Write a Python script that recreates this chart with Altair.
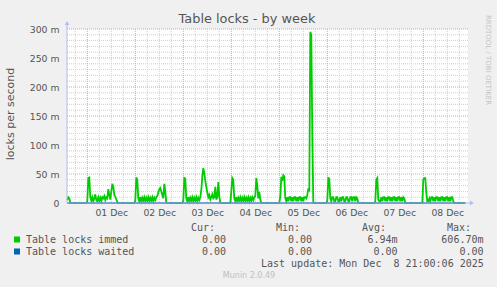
import altair as alt
import pandas as pd

# ---------------- data (milli-locks per second, 30-min samples) ----------------
nov30_from_1400 = [5, 10, 8, 0] + [0] * 16
dec01 = [3, 43, 44, 10, 4, 10, 3, 8, 15, 5, 3, 10, 4, 9, 3, 10, 8, 12, 5, 10,
         8, 24, 14, 6, 20, 33, 28, 14, 11, 6, 2, 0] + [0] * 16
dec02 = [4, 44, 40, 8, 3, 10, 3, 9, 4, 10, 3, 9, 4, 10, 3, 9, 4, 10, 3, 9,
         5, 10, 12, 18, 24, 26, 20, 14, 8, 33, 20, 0] + [0] * 16
dec03 = [4, 43, 42, 8, 3, 10, 3, 9, 4, 10, 3, 9, 4, 10, 3, 9, 5, 10, 22, 45,
         60, 52, 38, 28, 18, 10, 14, 6, 10, 15, 8, 10, 28, 6, 10, 36, 12, 0] + [0] * 10
dec04 = [20, 43, 40, 8, 3, 10, 3, 9, 4, 10, 3, 9, 4, 10, 3, 9, 4, 10, 3, 9,
         4, 10, 5, 10, 12, 43, 30, 8, 19, 6, 0] + [0] * 17
dec05 = [0, 12, 45, 38, 48, 46, 8, 3, 10, 3, 10, 10, 3, 10, 3, 10, 10, 3, 10, 3,
         10, 10, 3, 10, 3, 10, 10, 8, 14, 25, 20, 295, 290, 120, 0] + [0] * 13
dec06 = [4, 43, 42, 8, 3, 10, 10, 3, 3, 10, 10, 3, 3, 10, 3, 10, 10, 3, 3, 10,
         10, 3, 3, 10, 10, 3, 10, 10, 3, 10, 8, 0] + [0] * 16
dec07 = [3, 40, 43, 6, 3, 3, 10, 3, 10, 10, 3, 10, 3, 10, 10, 3, 10, 3, 10, 10,
         3, 10, 3, 10, 10, 3, 10, 3, 10, 8, 0] + [0] * 17
dec08_to_2100 = [40, 43, 43, 18, 3, 3, 8, 3, 10, 10, 3, 10, 3, 10, 10, 3, 10, 3, 10, 10,
                 3, 10, 3, 10, 10, 3, 10, 3, 10, 10, 3, 0] + [0] * 11

segment_starts = ["2025-11-30T14:00:00Z", "2025-12-01T00:00:00Z", "2025-12-02T00:00:00Z",
                  "2025-12-03T00:00:00Z", "2025-12-04T00:00:00Z", "2025-12-05T00:00:00Z",
                  "2025-12-06T00:00:00Z", "2025-12-07T00:00:00Z", "2025-12-08T00:00:00Z"]
segments = [nov30_from_1400, dec01, dec02, dec03, dec04, dec05, dec06, dec07, dec08_to_2100]

waited_times = ["2025-11-30T14:00:00Z", "2025-12-08T21:00:00Z"]
waited_values = [0, 0]

day_midnights = ["2025-12-01T00:00:00Z", "2025-12-02T00:00:00Z", "2025-12-03T00:00:00Z",
                 "2025-12-04T00:00:00Z", "2025-12-05T00:00:00Z", "2025-12-06T00:00:00Z",
                 "2025-12-07T00:00:00Z", "2025-12-08T00:00:00Z"]
y_major = [0, 50, 100, 150, 200, 250, 300]
y_minor = [10, 20, 30, 40, 60, 70, 80, 90, 110, 120, 130, 140, 160, 170, 180, 190,
           210, 220, 230, 240, 260, 270, 280, 290]

series_names = ["Table locks immed", "Table locks waited"]
stat_headers = ["Cur:", "Min:", "Avg:", "Max:"]
stats_immed = ["0.00\u00a0", "0.00\u00a0", "6.94m", "606.70m"]
stats_waited = ["0.00\u00a0", "0.00\u00a0", "0.00\u00a0", "0.00\u00a0"]
last_update = "Last update: Mon Dec\u00a0\u00a08 21:00:06 2025"

# ---------------- build tables ----------------
rows = []
for start, vals in zip(segment_starts, segments):
    ts = pd.date_range(start, periods=len(vals), freq="30min")
    for t, v in zip(ts, vals):
        rows.append({"time": t.strftime("%Y-%m-%dT%H:%M:%SZ"), "value": v})
immed_df = pd.DataFrame(rows)
waited_df = pd.DataFrame({"time": waited_times, "value": waited_values})

minor_x = ["2025-11-30T18:00:00Z"]
for m in day_midnights:
    base = pd.Timestamp(m)
    for h in [6, 12, 18]:
        minor_x.append((base + pd.Timedelta(hours=h)).strftime("%Y-%m-%dT%H:%M:%SZ"))

GREEN = "#00CC00"
BLUE = "#0066B3"
TXT = "#555555"
AXC = "#B4BCEA"
SANS = "DejaVu Sans"
MONO = "DejaVu Sans Mono"
W, H = 401, 174

xscale = alt.Scale(type="utc", domain=[
    alt.DateTime(year=2025, month=11, date=30, hours=13, minutes=51, utc=True),
    alt.DateTime(year=2025, month=12, date=8, hours=22, minutes=21, utc=True)])
yscale = alt.Scale(domain=[0, 300], nice=False, zero=True)

noon_vals = [alt.DateTime(year=2025, month=12, date=d, hours=12, utc=True) for d in range(1, 9)]

x_axis = alt.Axis(values=noon_vals, labelExpr="utcFormat(datum.value, '%d %b')",
                  ticks=False, domain=False, grid=False, labelPadding=5, title=None,
                  labelFont=SANS, labelFontSize=9.3, labelColor=TXT, labelOverlap=False)
y_axis = alt.Axis(values=y_major,
                  labelExpr="datum.value == 0 ? '0\u00a0\u00a0' : datum.value + ' m'",
                  ticks=False, domain=False, grid=False, labelPadding=8, title=None,
                  labelFont=SANS, labelFontSize=9.3, labelColor=TXT)

grid_minor_y = alt.Chart(pd.DataFrame({"v": y_minor})).mark_rule(
    color="#CFCFCF", strokeDash=[1, 1], strokeWidth=1).encode(
    y=alt.Y("v:Q", scale=yscale, axis=y_axis))
grid_minor_x = alt.Chart(pd.DataFrame({"t": minor_x})).mark_rule(
    color="#CFCFCF", strokeDash=[1, 1], strokeWidth=1).encode(
    x=alt.X("t:T", scale=xscale, axis=x_axis))
grid_major_y = alt.Chart(pd.DataFrame({"v": y_major[1:]})).mark_rule(
    color="#E4A0A0", strokeDash=[1, 1], strokeWidth=1).encode(
    y=alt.Y("v:Q", scale=yscale, axis=y_axis))
grid_major_x = alt.Chart(pd.DataFrame({"t": day_midnights})).mark_rule(
    color="#E4A0A0", strokeDash=[1, 1], strokeWidth=1).encode(
    x=alt.X("t:T", scale=xscale, axis=x_axis))

immed_line = alt.Chart(immed_df).mark_line(color=GREEN, strokeWidth=1.8).encode(
    x=alt.X("time:T", scale=xscale, axis=x_axis),
    y=alt.Y("value:Q", scale=yscale, axis=y_axis))
waited_line = alt.Chart(waited_df).mark_line(color=BLUE, strokeWidth=1.5).encode(
    x=alt.X("time:T", scale=xscale, axis=x_axis),
    y=alt.Y("value:Q", scale=yscale, axis=y_axis))

one = pd.DataFrame({"k": [0]})
y_axis_line = alt.Chart(one).mark_rule(color=AXC, strokeWidth=1).encode(
    x=alt.value(0), y=alt.value(-6), y2=alt.value(H))
x_axis_line = alt.Chart(one).mark_rule(color=AXC, strokeWidth=1).encode(
    x=alt.value(0), x2=alt.value(W + 4), y=alt.value(H))
y_arrow = alt.Chart(one).mark_point(shape="triangle-up", filled=True, color=AXC, opacity=1, size=22).encode(
    x=alt.value(0), y=alt.value(-6))
x_arrow = alt.Chart(one).mark_point(shape="triangle-right", filled=True, color=AXC, opacity=1, size=22).encode(
    x=alt.value(W + 4), y=alt.value(H))


def label(s, x, y, size=10, font=MONO, color=TXT, align="left", angle=0, baseline="middle"):
    return alt.Chart(pd.DataFrame({"t": [s]})).mark_text(
        font=font, fontSize=size, color=color, align=align, baseline=baseline, angle=angle
    ).encode(text="t:N", x=alt.value(x), y=alt.value(y))


OX, OY = 67, 29  # plot origin in page pixels
texts = [
    label("Table locks - by week", 247 - OX, 23 - OY, size=12.9, font=SANS, color=TXT,
          align="center", baseline="alphabetic"),
    label("locks per second", 11 - OX, 114 - OY, size=11, font=SANS, color=TXT,
          align="center", angle=270),
    label("RRDTOOL / TOBI OETIKER", 488 - OX, 60 - OY, size=7, font=SANS, color="#C4C4C4",
          align="center", angle=90),
    label("Munin 2.0.49", 249 - OX, 276 - OY, size=8, font=SANS, color="#C0C0C0", align="center"),
    label(last_update, 261 - OX, 263.5 - OY),
]
header_x = [191, 276, 362, 447]
for hx, h in zip(header_x, stat_headers):
    texts.append(label(h, hx - OX, 227.5 - OY))
col_right = [226, 312, 397.5, 483.5]
row_y = [239.5, 251.5]
for ry, name, stats in zip(row_y, series_names, [stats_immed, stats_waited]):
    texts.append(label(name, 26 - OX, ry - OY))
    for cx, s in zip(col_right, stats):
        texts.append(label(s, cx - OX, ry - OY, align="right"))

sq_green = alt.Chart(one).mark_rect(color=GREEN).encode(
    x=alt.value(14 - OX), x2=alt.value(20 - OX), y=alt.value(236.5 - OY), y2=alt.value(242.5 - OY))
sq_blue = alt.Chart(one).mark_rect(color=BLUE).encode(
    x=alt.value(14 - OX), x2=alt.value(20 - OX), y=alt.value(248.5 - OY), y2=alt.value(254.5 - OY))

chart = alt.layer(
    grid_minor_y, grid_minor_x, grid_major_y, grid_major_x,
    immed_line, waited_line,
    y_axis_line, x_axis_line, y_arrow, x_arrow,
    sq_green, sq_blue, *texts
).properties(
    width=W, height=H,
    autosize=alt.AutoSizeParams(type="none"),
    padding={"left": OX, "top": OY, "right": 497 - OX - W, "bottom": 287 - OY - H},
    background="#F0F0F0",
).configure_view(fill="white", strokeWidth=0)

chart.save("out.html", embed_options={"renderer": "svg", "actions": False})
